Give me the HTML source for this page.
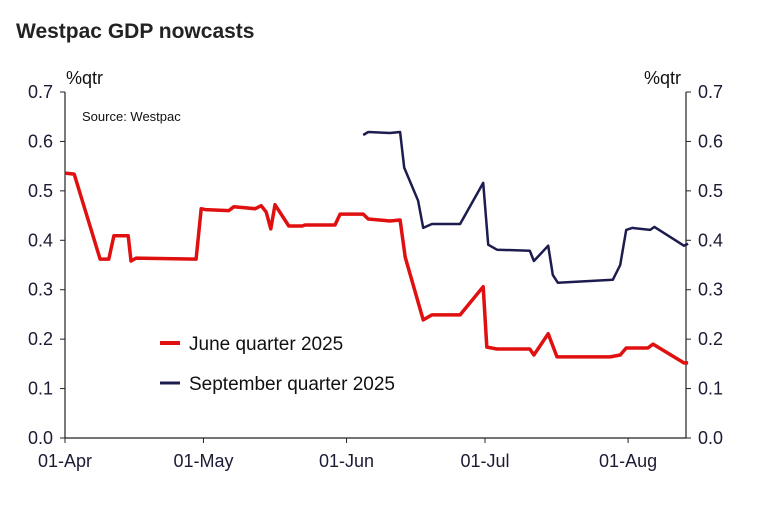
<!DOCTYPE html>
<html><head><meta charset="utf-8"><style>
body{margin:0;background:#fff;width:759px;height:501px;overflow:hidden;font-family:"Liberation Sans",Arial,sans-serif}
</style></head><body>
<svg id="chart" width="759" height="501" xmlns="http://www.w3.org/2000/svg" font-family="Liberation Sans, Arial, sans-serif">
<text x="16" y="38" font-size="21" font-weight="bold" fill="#222">Westpac GDP nowcasts</text>
<text x="66" y="84" font-size="18" fill="#111">%qtr</text>
<text x="644" y="84" font-size="18" fill="#111">%qtr</text>
<text x="82" y="121" font-size="13" fill="#111">Source: Westpac</text>
<g id="axes"></g>
<g id="series"></g>
<line x1="160" y1="343" x2="180" y2="343" stroke="#e01010" stroke-width="4"/>
<text x="189" y="350" font-size="19" fill="#111">June quarter 2025</text>
<line x1="160" y1="383" x2="180" y2="383" stroke="#1c1c4e" stroke-width="3"/>
<text x="189" y="390" font-size="19" fill="#111">September quarter 2025</text>
</svg>
<script>
const yTicks=[0,0.1,0.2,0.3,0.4,0.5,0.6,0.7];
const xTickDays=[0,30,61,91,122];
const xTickLabels=["01-Apr","01-May","01-Jun","01-Jul","01-Aug"];
const juneDays=[0,2,7.6,9.5,10.6,13.7,14.3,15.4,28.4,29.5,30.4,35.5,36.6,41.2,42.5,43.6,44.6,45.5,48.5,51.4,52,58.5,59.6,64.6,65.7,70.4,72.6,73.7,77.6,79.5,85.6,90.6,91.4,93.6,100.7,101.6,104.7,106.6,118.1,120.3,121.6,126.3,127.4,134.1,135];
const juneVals=[0.536,0.534,0.362,0.362,0.409,0.409,0.358,0.364,0.362,0.464,0.462,0.46,0.468,0.464,0.47,0.457,0.423,0.472,0.429,0.429,0.431,0.431,0.453,0.453,0.443,0.439,0.441,0.366,0.239,0.249,0.249,0.306,0.184,0.18,0.18,0.168,0.211,0.164,0.164,0.168,0.182,0.182,0.19,0.152,0.152];
const sepDays=[64.6,65.7,70.4,72.6,73.5,76.5,77.6,79.5,85.6,90.6,91.7,93.6,100.7,101.6,104.7,105.7,106.8,118.7,120.3,121.6,122.9,126.8,127.7,134.1,135];
const sepVals=[0.613,0.619,0.617,0.619,0.547,0.48,0.425,0.433,0.433,0.516,0.391,0.381,0.379,0.358,0.389,0.33,0.314,0.32,0.35,0.421,0.425,0.421,0.427,0.389,0.393];
const L=65,R=686,T=92,B=438,pxDay=(485-65)/91;
const xs=d=>L+d*pxDay, ys=v=>B-(v/0.7)*(B-T);
const NS="http://www.w3.org/2000/svg";
const ax=document.getElementById('axes'), se=document.getElementById('series');
function mk(p,tag,a){const e=document.createElementNS(NS,tag);for(const k in a)e.setAttribute(k,a[k]);p.appendChild(e);return e;}
let e;
e=mk(ax,'line',{x1:L,y1:T,x2:L,y2:B,stroke:'#222','stroke-width':1.2});


e=mk(ax,'line',{x1:R,y1:T,x2:R,y2:B,stroke:'#222','stroke-width':1.2});


e=mk(ax,'line',{x1:L,y1:B,x2:R,y2:B,stroke:'#222','stroke-width':1.2});


yTicks.forEach(v=>{const y=ys(v);
 mk(ax,'line',{x1:L-5,y1:y,x2:L,y2:y,stroke:'#222'});
 mk(ax,'line',{x1:R,y1:y,x2:R+5,y2:y,stroke:'#222'});
 let t=mk(ax,'text',{x:L-12,y:y+6,'text-anchor':'end','font-size':18,fill:'#1b1b33'});t.textContent=v.toFixed(1);
 
 
 t=mk(ax,'text',{x:R+12,y:y+6,'font-size':18,fill:'#1b1b33'});t.textContent=v.toFixed(1);
 
 
});
xTickDays.forEach((d,i)=>{const x=xs(d);
 mk(ax,'line',{x1:x,y1:B,x2:x,y2:B+5,stroke:'#222'});
 const t=mk(ax,'text',{x:x,y:B+29,'text-anchor':'middle','font-size':18,fill:'#1b1b33'});t.textContent=xTickLabels[i];
 
 
});
function path(days,vals,col,w,name){
 const d=days.map((dd,i)=>(i?'L':'M')+xs(dd).toFixed(1)+','+ys(vals[i]).toFixed(1)).join(' ');
 const p=mk(se,'path',{d:d,fill:'none',stroke:col,'stroke-width':w,'stroke-linejoin':'round'});
 
 
}
path(sepDays,sepVals,'#1c1c4e',2.5,'september-quarter-line');
path(juneDays,juneVals,'#e01010',3.5,'june-quarter-line');
</script>
</body></html>
